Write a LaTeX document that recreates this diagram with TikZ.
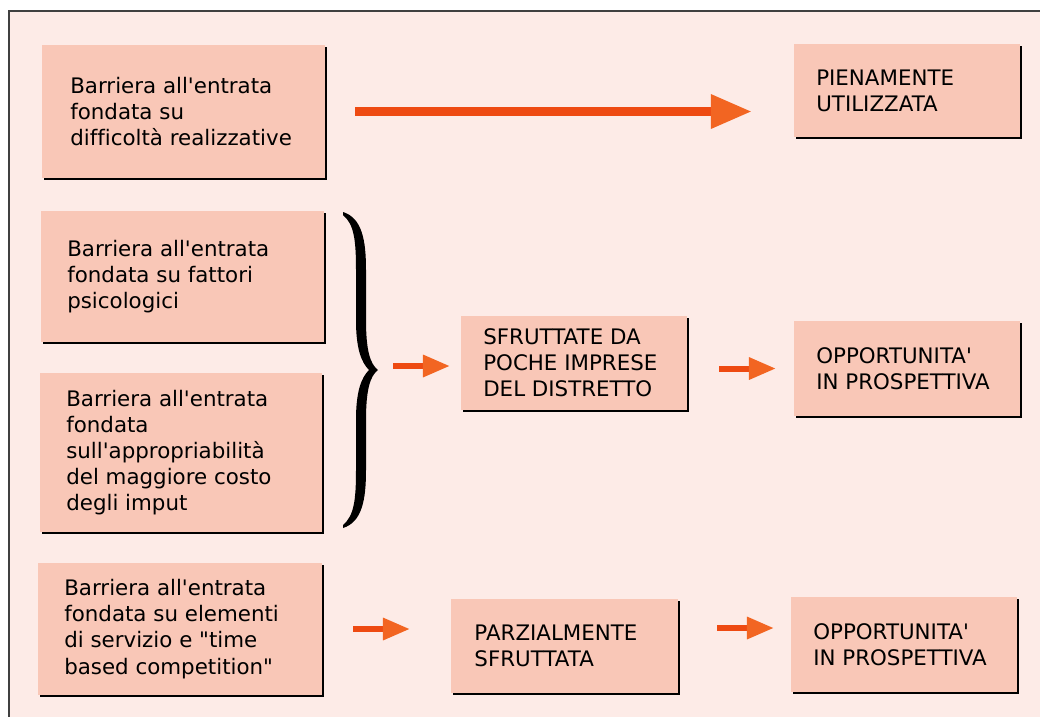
\documentclass[tikz,border=0pt]{standalone}
\usepackage{fontspec}
\newfontfamily\boxfont{DejaVu Sans}[Ligatures=NoCommon]
\usepackage{xcolor}
\usetikzlibrary{positioning,arrows.meta,shadows}
\definecolor{pagepink}{HTML}{FDEBE7}
\definecolor{boxpink}{HTML}{F9C7B7}
\definecolor{shaftred}{HTML}{EE4A12}
\definecolor{headred}{HTML}{F26522}

\begin{document}
\begin{tikzpicture}[x=0.025cm, y=-0.025cm,
		box/.style={anchor=north west, fill=boxpink, inner sep=0pt, outer sep=0pt,
			drop shadow={fill=black, opacity=1, shadow xshift=0.05cm, shadow yshift=-0.05cm}},
		txt/.style={inner sep=0pt, align=left, font=\boxfont\fontsize{15.2}{18.6}\selectfont},
		arr/.style={draw=shaftred, line width=0.15cm, -{Triangle[length=0.675cm, width=0.525cm, color=headred]}},
		bigarr/.style={draw=shaftred, line width=0.225cm, -{Triangle[length=1.025cm, width=0.8cm, color=headred]}}]
			\clip (0,0) rectangle (1040,717);
			\fill[white] (0,0) rectangle (1040,717);
			\filldraw[fill=pagepink, draw=black!75, line width=0.04cm] (9,11) rectangle (1060,740);

			% first row
			\node[box, minimum width=7.075cm, minimum height=3.325cm] (a1) at (42,45) {};
			\node[txt, right=0.7cm of a1.west] (a1t) {Barriera all'entrata\\fondata su\\difficoltà realizzative};
			\node[box, minimum width=5.65cm, minimum height=2.325cm] (a2) at (794,44) {};
			\node[txt, right=0.55cm of a2.west] (a2t) {PIENAMENTE\\UTILIZZATA};

			% second row
			\node[box, minimum width=7.075cm, minimum height=3.275cm] (b1) at (41,211) {};
			\node[txt, right=0.65cm of b1.west] (b1t) {Barriera all'entrata\\fondata su fattori\\psicologici};
			\node[box, minimum width=7.05cm, minimum height=3.975cm] (b2) at (40,373) {};
			\node[txt, right=0.65cm of b2.west] (b2t) {Barriera all'entrata\\fondata\\sull'appropriabilità\\del maggiore costo\\degli imput};
			\node[box, minimum width=5.65cm, minimum height=2.35cm] (b3) at (461,316) {};
			\node[txt, right=0.55cm of b3.west] (b3t) {SFRUTTATE DA\\POCHE IMPRESE\\DEL DISTRETTO};
			\node[box, minimum width=5.65cm, minimum height=2.375cm] (b4) at (794,321) {};
			\node[txt, right=0.55cm of b4.west] (b4t) {OPPORTUNITA'\\IN PROSPETTIVA};

			% third row
			\node[box, minimum width=7.1cm, minimum height=3.3cm] (c1) at (38,563) {};
			\node[txt, right=0.65cm of c1.west] (c1t) {Barriera all'entrata\\fondata su elementi\\di servizio e "time\\based competition"};
			\node[box, minimum width=5.675cm, minimum height=2.35cm] (c2) at (451,599) {};
			\node[txt, right=0.58cm of c2.west] (c2t) {PARZIALMENTE\\SFRUTTATA};
			\node[box, minimum width=5.65cm, minimum height=2.375cm] (c3) at (791,597) {};
			\node[txt, right=0.55cm of c3.west] (c3t) {OPPORTUNITA'\\IN PROSPETTIVA};

			% brace
			\fill[black] (343,212) .. controls (362,218) and (366,240) .. (366,270)
				-- (366,320) .. controls (366,350) and (370,364) .. (378,370)
				.. controls (370,376) and (366,390) .. (366,420)
				-- (366,470) .. controls (366,500) and (362,522) .. (343,528)
				-- (343,525) .. controls (354,516) and (356,500) .. (356,470)
				-- (356,420) .. controls (356,392) and (361,378) .. (369,370)
				.. controls (361,362) and (356,348) .. (356,320)
				-- (356,270) .. controls (356,240) and (354,224) .. (343,215) -- cycle;
			\coordinate (bt) at (377,366);

			% arrows
			\draw[bigarr, shorten <=0.75cm, shorten >=1.05cm] (a1.east) -- (a1.east -| a2.west);
			\draw[arr, shorten <=0.4cm, shorten >=0.275cm] (bt) -- (bt -| b3.west);
			\draw[arr, shorten <=0.8cm, shorten >=0.45cm] (b3.east |- b4.west) -- (b4.west);
			\draw[arr, shorten <=0.775cm, shorten >=1.025cm] (c1.east) -- (c1.east -| c2.west);
			\draw[arr, shorten <=0.975cm, shorten >=0.425cm] ([yshift=0.45cm]c2.east) -- ([yshift=0.45cm]c2.east -| c3.west);
		\end{tikzpicture}
\end{document}
